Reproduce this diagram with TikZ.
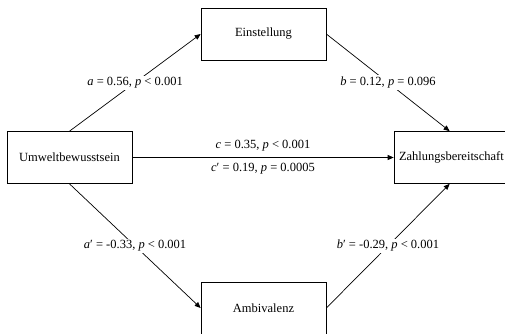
\documentclass[tikz,border=0pt]{standalone}
\usepackage{fontspec}
\setmainfont{Liberation Serif}
\usetikzlibrary{arrows.meta,positioning,calc}

\begin{document}
\begin{tikzpicture}[
    x=1pt, y=-1pt,
    var/.style={rectangle, draw=black, line width=0.7pt, minimum width=125pt, minimum height=52pt, inner sep=0pt, font=\fontsize{12.5}{14}\selectfont},
    path/.style={line width=0.7pt, -{Triangle[length=6pt,width=5pt]}},
    coef/.style={fill=white, inner sep=1.5pt, font=\fontsize{12.5}{14}\selectfont}
  ]
    % page frame
    \clip (0,0) rectangle (505,333);
    \fill[white] (0,0) rectangle (505,333);
    % variables
    \node[var] (umwelt) at (69.5,157.5) {Umweltbewusstsein};
    \node[var] (einst)  at (263.5,34)   {Einstellung};
    \node[var] (amb)    at (263.5,308)  {Ambivalenz};
    \node[var, text width=120pt, align=left, inner xsep=5pt] (zahl) at (459,157.5) {Zahlungsbereitschaft};
    \coordinate (zahltop) at ([xshift=56pt]zahl.north west);
    \coordinate (zahlbot) at ([xshift=56pt]zahl.south west);
    % paths
    \draw[path] (umwelt.north) -- node[coef] {\textit{a} = 0.56, \textit{p} < 0.001} (einst.west);
    \draw[path] (einst.east) -- node[coef] {\textit{b} = 0.12, \textit{p} = 0.096} (zahltop);
    \draw[path] (umwelt.south) -- node[coef] {\textit{a}′ = -0.33, \textit{p} < 0.001} (amb.west);
    \draw[path] (amb.east) -- node[coef] {\textit{b}′ = -0.29, \textit{p} < 0.001} (zahlbot);
    \draw[path] (umwelt.east) -- node[coef, above=4pt] {\textit{c} = 0.35, \textit{p} < 0.001}
      node[coef, below=4pt] {\textit{c}′ = 0.19, \textit{p} = 0.0005} (zahl.west);
  \end{tikzpicture}
\end{document}
